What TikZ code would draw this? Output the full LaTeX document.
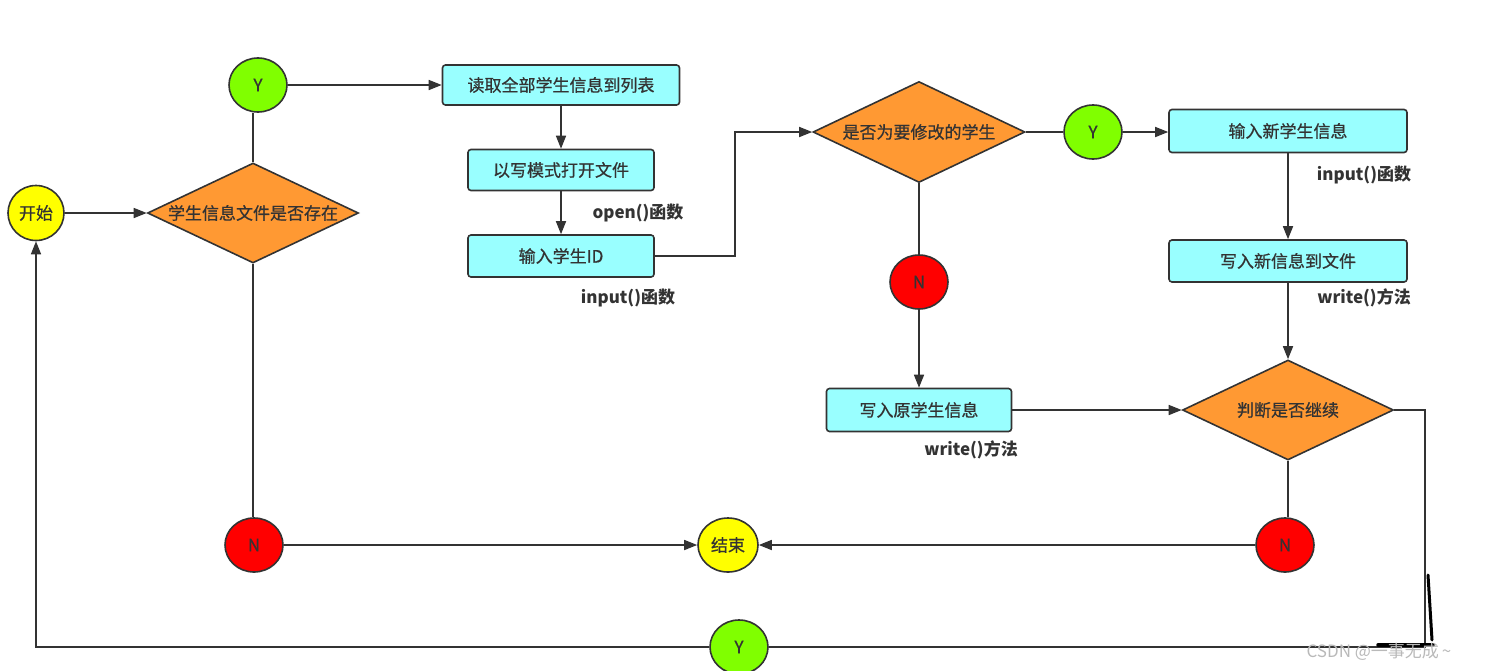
\documentclass[tikz,border=0pt]{standalone}
\usepackage{fontspec}
\setmainfont{Noto Sans CJK SC}
\newfontfamily\medcjk[FakeBold=0.7]{Noto Sans CJK SC}
\usetikzlibrary{shapes.geometric,arrows.meta,calc}
\definecolor{cbox}{RGB}{153,255,255}
\definecolor{cdia}{RGB}{255,153,51}
\definecolor{cgreen}{RGB}{128,255,0}
\definecolor{cred}{RGB}{255,0,0}
\definecolor{cyel}{RGB}{255,255,0}
\definecolor{ink}{RGB}{51,51,51}
\begin{document}
\begin{tikzpicture}[x=1pt,y=-1pt,
 every node/.style={text=ink, font=\fontsize{17}{20}\selectfont\medcjk},
 base/.style={draw=ink, line width=1.6pt},
 proc/.style={base, rectangle, rounded corners=3pt, fill=cbox, inner sep=0pt},
 dec/.style={base, diamond, fill=cdia, inner sep=0pt, minimum width=211pt, minimum height=100pt},
 oval/.style={base, ellipse, inner sep=0pt, minimum width=58pt, minimum height=54pt},
 lbl/.style={font=\fontsize{17}{20}\selectfont\bfseries},
 ln/.style={draw=ink, line width=1.6pt},
 arr/.style={ln, -{Triangle[length=13pt,width=10pt]}},
 handmark/.style={draw=black, line width=3pt, line cap=round}
]
\useasboundingbox (0,0) rectangle (1489,670);

% nodes
\node[oval, fill=cyel, minimum width=56pt, minimum height=55pt] (start) at (36,213) {开始};
\node[dec] (d1) at (253,213) {\makebox[0pt]{学生信息文件是否存在}};
\node[oval, fill=cgreen] (y1) at (258,85) {Y};
\node[proc, minimum width=237pt, minimum height=40pt] (b1) at (561,85) {读取全部学生信息到列表};
\node[proc, minimum width=186pt, minimum height=41pt] (b2) at (561,170) {以写模式打开文件};
\node[proc, minimum width=186pt, minimum height=42pt] (b3) at (561,256) {输入学生ID};
\node[dec, minimum width=212pt, minimum height=101pt] (d2) at (919,132) {\makebox[0pt]{是否为要修改的学生}};
\node[oval, fill=cgreen] (y2) at (1093,132) {Y};
\node[proc, minimum width=238pt, minimum height=43pt] (b4) at (1288,131) {输入新学生信息};
\node[proc, minimum width=238pt, minimum height=42pt] (b5) at (1288,261) {写入新信息到文件};
\node[oval, fill=cred] (n2) at (919,282) {N};
\node[proc, minimum width=185pt, minimum height=43pt] (b6) at (919,410) {写入原学生信息};
\node[dec] (d3) at (1288,410) {\makebox[0pt]{判断是否继续}};
\node[oval, fill=cred] (n3) at (1285,545) {N};
\node[oval, fill=cyel, minimum width=60pt] (end) at (728,545) {结束};
\node[oval, fill=cred] (n1) at (254,545) {N};
\node[oval, fill=cgreen] (y3) at (739,647) {Y};

% labels
\node[lbl] (l1) at (638,213) {open()函数};
\node[lbl] (l2) at (628,298) {input()函数};
\node[lbl] (l3) at (1364,175) {input()函数};
\node[lbl] (l4) at (1364,298) {write()方法};
\node[lbl] (l5) at (971,450) {write()方法};

% connectors
\draw[arr] (start.east) -- (d1.west);
\draw[ln] (d1.north) -- (d1.north |- y1.south);
\draw[arr] (y1.east) -- (b1.west);
\draw[arr] (b1.south) -- (b2.north);
\draw[arr] (b2.south) -- (b3.north);
\coordinate (k1) at (735,256);
\draw[arr] (b3.east) -- (k1) |- (d2.west);
\draw[ln] (d2.east) -- (y2.west);
\draw[arr] (y2.east) -- (y2.east -| b4.west);
\draw[arr] (b4.south) -- (b5.north);
\draw[arr] (b5.south) -- (d3.north);
\draw[ln] (d2.south) -- (n2.north);
\draw[arr] (n2.south) -- (b6.north);
\draw[arr] (b6.east) -- (d3.west);
\draw[ln] (d3.south) -- (d3.south |- n3.north);
\draw[arr] (n3.west) -- (end.east);
\draw[ln] (d1.south) -- (d1.south |- n1.north);
\draw[arr] (n1.east) -- (end.west);
\coordinate (k2) at (1425,410);
\draw[ln] (d3.east) -- (k2) |- (y3.east);
\draw[arr] (y3.west) -| (start.south);

% hand-drawn marks
\draw[handmark] (1428,575) -- (1432,640);
\draw[handmark, line width=3.5pt] (1378,645) -- (1433,645);

% watermark
\node[text={rgb,255:red,185;green,185;blue,185}, anchor=west, font=\fontsize{17}{20}\selectfont] (wm) at (1303,652) {CSDN @一事无成\,\textasciitilde};
\end{tikzpicture}
\end{document}
